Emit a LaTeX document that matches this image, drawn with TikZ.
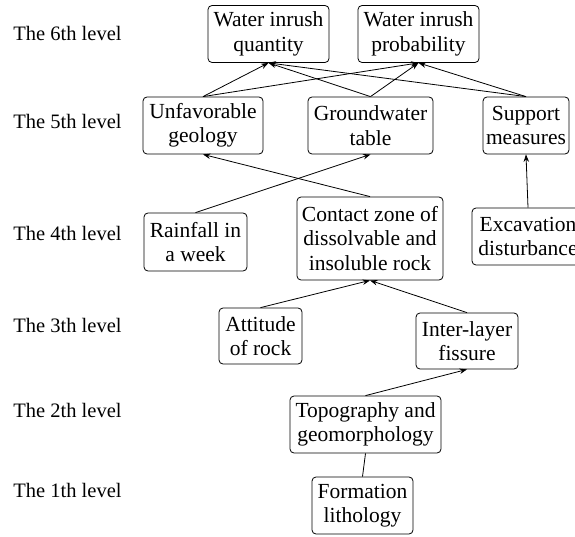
\documentclass[tikz,border=0pt]{standalone}
\usepackage{fontspec}
\setmainfont{Liberation Serif}
\usetikzlibrary{arrows.meta}
\tikzset{box/.style={draw,rounded corners=4pt,align=center,inner sep=2pt,minimum height=57pt,font=\fontsize{21.5}{24.5}\selectfont},
  lvl/.style={anchor=west,inner sep=0pt,font=\fontsize{20.5}{24.5}\selectfont}}
\begin{document}
\begin{tikzpicture}[join=round,x=1pt,y=-1pt,line width=0.8pt,>={Stealth[length=7.5pt,width=5.5pt]}]
          \clip(0,0) rectangle (575,537);
          \node[lvl](l6) at (13,33) {The 6th level};
          \node[lvl](l5) at (13,121) {The 5th level};
          \node[lvl](l4) at (13,233) {The 4th level};
          \node[lvl](l3) at (13,325) {The 3th level};
          \node[lvl](l2) at (13,410) {The 2th level};
          \node[lvl](l1) at (13,490) {The 1th level};
          \node[box,minimum width=121pt](qty) at (268.5,34) {Water inrush\\quantity};
          \node[box,minimum width=121pt](prob) at (418.5,34) {Water inrush\\probability};
          \node[box,minimum width=120pt](unfav) at (203,125.5) {Unfavorable\\geology};
          \node[box,minimum width=125pt](gw) at (370.5,125.5) {Groundwater\\table};
          \node[box,minimum width=86pt](supp) at (526,125.5) {Support\\measures};
          \node[box,minimum width=103pt,minimum height=58pt](rain) at (195.5,242) {Rainfall in\\a week};
          \node[box,minimum width=146pt,minimum height=83pt](contact) at (370,238.5) {Contact zone of\\dissolvable and\\insoluble rock};
          \node[box,minimum width=112pt](excav) at (528,236.5) {Excavation\\disturbance};
          \node[box,minimum width=83pt,minimum height=56pt](att) at (260.5,336) {Attitude\\of rock};
          \node[box,minimum width=102pt,minimum height=56pt](inter) at (467,341) {Inter-layer\\fissure};
          \node[box,minimum width=151pt](topo) at (365.5,424.5) {Topography and\\geomorphology};
          \node[box,minimum width=101pt](form) at (362.5,505.5) {Formation\\lithology};
          \draw[->](unfav.north)--(qty.south);
          \draw[->](unfav.north)--(prob.south);
          \draw[->](gw.north)--(qty.south);
          \draw[->](gw.north)--(prob.south);
          \draw[->](supp.north)--(qty.south);
          \draw[->](supp.north)--(prob.south);
          \draw[->](rain.north)--(gw.south);
          \draw[->](contact.north)--(unfav.south);
          \draw[->](excav.north)--(supp.south);
          \draw[->](att.north)--(contact.south);
          \draw[->](inter.north)--(contact.south);
          \draw[->](topo.north)--(inter.south);
          \draw(form.north)--(topo.south);
    \end{tikzpicture}
\end{document}
